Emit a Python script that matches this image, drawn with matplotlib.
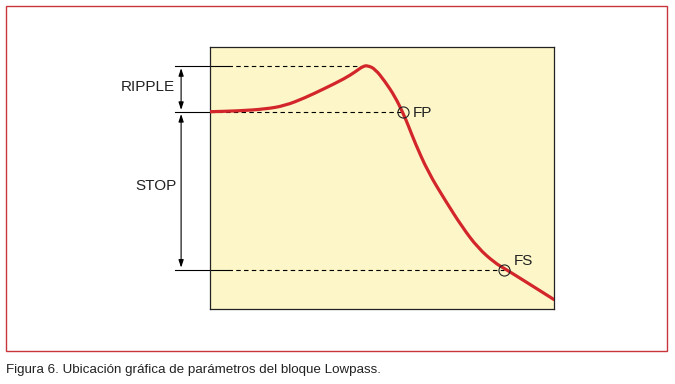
import matplotlib
matplotlib.use("Agg")
import matplotlib.pyplot as plt
from matplotlib.patches import Rectangle, PathPatch
from matplotlib.path import Path

plt.rcParams['font.family'] = ['Liberation Sans', 'DejaVu Sans']

# lowpass response curve (frequency 0..10, gain 0..100 arbitrary units)
freq = [0.0, 0.81, 1.60, 2.18, 2.76, 3.34, 3.92, 4.22, 4.45, 4.59, 4.80,
        5.09, 5.38, 5.61, 5.76, 5.96, 6.34, 6.83, 7.33, 7.79, 8.28, 8.58,
        9.24, 10.0]
gain = [75.3, 75.6, 76.3, 77.6, 80.6, 84.2, 88.0, 90.5, 92.7, 92.9, 91.6,
        86.8, 81.0, 74.8, 70.2, 63.4, 52.3, 41.6, 31.3, 23.3, 17.6, 15.3,
        9.9, 3.6]

ripple_level = 92.7
pass_level = 75.2
stop_level = 15.0
fp = 5.60
fs = 8.55
peak_f = 4.5

fig = plt.figure(figsize=(6.75, 3.84), dpi=100)
fig.patch.set_facecolor('white')

ax = fig.add_axes([210/675, 1-309/384, 344/675, 262/384])
ax.set_facecolor('#fcf6c8')
ax.set_xlim(0, 10)
ax.set_ylim(0, 100)
ax.set_xticks([])
ax.set_yticks([])
for s in ax.spines.values():
    s.set_linewidth(0.9)
    s.set_color('#222222')

xl = -1.02   # left end of reference lines
xs = 0.52    # end of solid part
xa = -0.84   # arrow position

# reference lines
ax.plot([xl, xs], [ripple_level, ripple_level], color='black', lw=0.8, clip_on=False)
ax.plot([xs, peak_f], [ripple_level, ripple_level], color='black', lw=0.8,
        ls=(0, (4, 3)))
ax.plot([xl, 0], [pass_level, pass_level], color='black', lw=0.8, clip_on=False)
ax.plot([0, fp], [pass_level, pass_level], color='black', lw=0.8, ls=(0, (4, 3)))
ax.plot([xl, xs], [stop_level, stop_level], color='black', lw=0.8, clip_on=False)
ax.plot([xs, fs], [stop_level, stop_level], color='black', lw=0.8, ls=(0, (4, 3)))

# double arrows
arrow = dict(arrowstyle='<|-|>,head_length=0.45,head_width=0.15', color='black',
             lw=0.8, shrinkA=1.5, shrinkB=1.5)
ax.annotate('', xy=(xa, ripple_level), xytext=(xa, pass_level),
            arrowprops=arrow, annotation_clip=False)
ax.annotate('', xy=(xa, pass_level), xytext=(xa, stop_level),
            arrowprops=arrow, annotation_clip=False)

ax.text(xl, 84.7, 'RIPPLE', ha='right', va='center', fontsize=11,
        color='#222222', clip_on=False)
ax.text(xl + 0.05, 46.9, 'STOP', ha='right', va='center', fontsize=11,
        color='#222222', clip_on=False)

# response curve, drawn as a smooth quadratic path through the read points
pts = list(zip(freq, gain))
verts = [pts[0]]
codes = [Path.MOVETO]
mid = lambda a, b: ((a[0] + b[0]) / 2, (a[1] + b[1]) / 2)
verts.append(mid(pts[0], pts[1]))
codes.append(Path.LINETO)
for i in range(1, len(pts) - 1):
    verts += [pts[i], mid(pts[i], pts[i + 1])]
    codes += [Path.CURVE3, Path.CURVE3]
verts.append(pts[-1])
codes.append(Path.LINETO)
ax.add_patch(PathPatch(Path(verts, codes), fill=False, edgecolor='#d3262b',
                       lw=2.3, joinstyle='round', capstyle='round', zorder=3))

# markers
ax.plot([fp, fs], [pass_level, stop_level], 'o', ms=8, mfc='none', mec='#222222',
        mew=0.8, zorder=4)
ax.text(5.90, 74.8, 'FP', ha='left', va='center', fontsize=11, color='#222222')
ax.text(8.84, 18.3, 'FS', ha='left', va='center', fontsize=11, color='#222222')

# red frame
fig.patches.append(Rectangle((6/675, 1-351/384), 661/675, 345/384,
                             transform=fig.transFigure, fill=False,
                             edgecolor='#c8363c', lw=1.0))

fig.text(6/675, 1-370/384, 'Figura 6. Ubicación gráfica de parámetros del bloque Lowpass.',
         ha='left', va='center', fontsize=9.6, color='#222222')

fig.savefig('out.png', dpi=100)
